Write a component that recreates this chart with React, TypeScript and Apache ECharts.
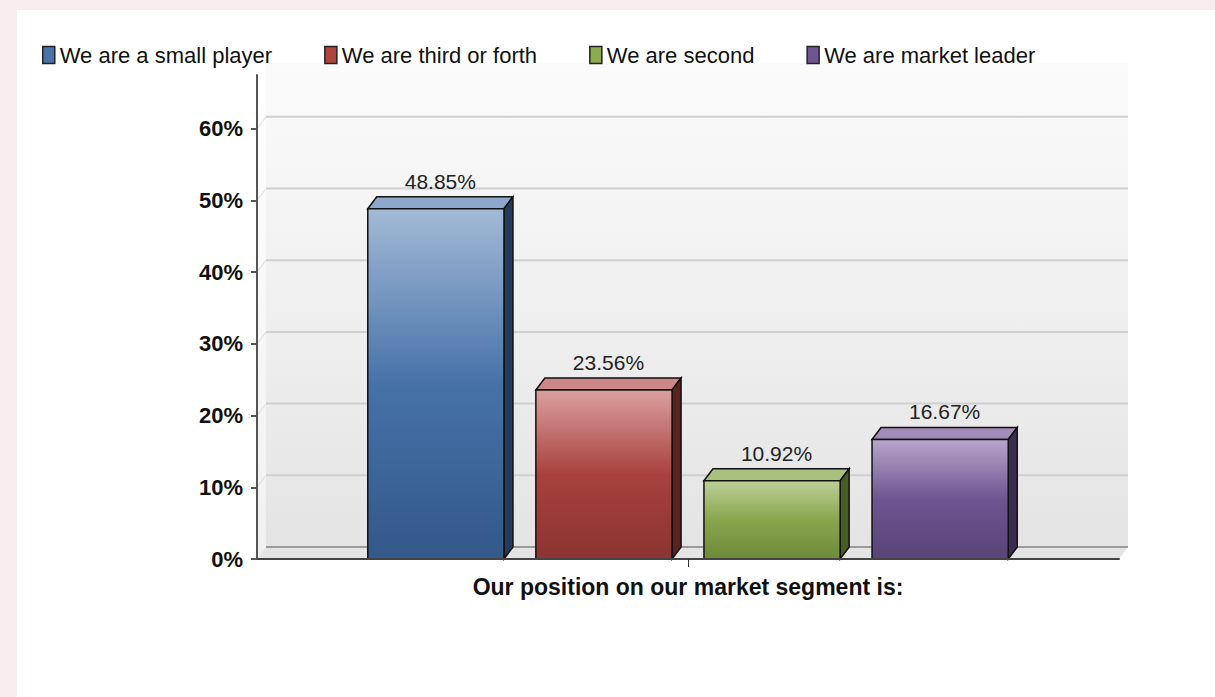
import React, { useEffect, useRef } from 'react';
import * as echarts from 'echarts';

const categories = ['Our position on our market segment is:'];
const seriesNames = ['We are a small player', 'We are third or forth', 'We are second', 'We are market leader'];
const seriesValues = [48.85, 23.56, 10.92, 16.67];
const yTickValues = [0, 10, 20, 30, 40, 50, 60];
const yMax = 67.5;

const legendColors = ['#4a74a9', '#b0443f', '#8bab4d', '#6f5693'];
const faceTop = ['#a3bad6', '#dba09e', '#bdd098', '#b8a6cb'];
const faceMid = ['#4672a8', '#a8413d', '#88a64c', '#6e5491'];
const faceBottom = ['#33588a', '#8b3431', '#6d8a3a', '#584477'];
const sideColors = ['#223b5b', '#5b2220', '#485d25', '#3a2d4f'];
const topColors = ['#8da8cb', '#cc8786', '#a9bf7e', '#a18cba'];

const DX = 9;
const DY = -12;
const BAR_FRAC = 0.158;
const STEP_FRAC = 0.195;
const SANS = "'Liberation Sans', Arial, sans-serif";

const wallRender = (params: any, api: any) => {
  const cs = params.coordSys;
  const x0 = cs.x;
  const x1 = cs.x + cs.width;
  const yT = cs.y;
  const yB = cs.y + cs.height;
  const children: any[] = [
    {
      type: 'rect',
      shape: { x: x0 + DX, y: yT + DY, width: cs.width, height: cs.height },
      style: {
        fill: new echarts.graphic.LinearGradient(0, 0, 0, 1, [
          { offset: 0, color: '#fbfbfb' },
          { offset: 1, color: '#e4e4e4' },
        ]),
      },
    },
    {
      type: 'polygon',
      shape: { points: [[x0, yT], [x0 + DX, yT + DY], [x0 + DX, yB + DY], [x0, yB]] },
      style: {
        fill: new echarts.graphic.LinearGradient(0, 0, 0, 1, [
          { offset: 0, color: '#ffffff' },
          { offset: 1, color: '#f0f0f0' },
        ]),
      },
    },
    {
      type: 'polygon',
      shape: { points: [[x0, yB], [x0 + DX, yB + DY], [x1 + DX, yB + DY], [x1, yB]] },
      style: { fill: '#e4e4e4' },
    },
  ];
  yTickValues.forEach((v) => {
    if (v === 0) return;
    const y = api.coord([0, v])[1];
    children.push({
      type: 'line',
      shape: { x1: x0 + DX, y1: y + DY, x2: x1 + DX, y2: y + DY },
      style: { stroke: '#d0d0d0', lineWidth: 2 },
    });
    children.push({
      type: 'line',
      shape: { x1: x0, y1: y, x2: x0 + DX, y2: y + DY },
      style: { stroke: '#dcdcdc', lineWidth: 1 },
    });
  });
  children.push({
    type: 'line',
    shape: { x1: x0 + DX, y1: yB + DY, x2: x1 + DX, y2: yB + DY },
    style: { stroke: '#9a9a9a', lineWidth: 2 },
  });
  return { type: 'group', children };
};

const makeBarRender = (i: number) => (params: any, api: any) => {
  const n = seriesValues.length;
  const val = api.value(1);
  const top = api.coord([api.value(0), val]);
  const base = api.coord([api.value(0), 0]);
  const band = api.size([1, 0])[0];
  const w = band * BAR_FRAC;
  const cx = top[0] + (i - (n - 1) / 2) * band * STEP_FRAC;
  const L = cx - w / 2;
  const R = cx + w / 2;
  const yT = top[1];
  const yB = base[1];
  return {
    type: 'group',
    children: [
      {
        type: 'polygon',
        shape: { points: [[L, yT], [L + DX, yT + DY], [R + DX, yT + DY], [R, yT]] },
        style: { fill: topColors[i], stroke: '#111', lineWidth: 1.5 },
      },
      {
        type: 'polygon',
        shape: { points: [[R, yT], [R + DX, yT + DY], [R + DX, yB + DY], [R, yB]] },
        style: { fill: sideColors[i], stroke: '#111', lineWidth: 1.5 },
      },
      {
        type: 'rect',
        shape: { x: L, y: yT, width: w, height: yB - yT },
        style: {
          fill: new echarts.graphic.LinearGradient(0, 0, 0, 1, [
            { offset: 0, color: faceTop[i] },
            { offset: 0.5, color: faceMid[i] },
            { offset: 1, color: faceBottom[i] },
          ]),
          stroke: '#111',
          lineWidth: 1.5,
        },
      },
      {
        type: 'text',
        style: {
          text: val.toFixed(2) + '%',
          x: (L + R + DX) / 2,
          y: yT + DY - 5,
          align: 'center',
          verticalAlign: 'bottom',
          fontSize: 21,
          fontFamily: SANS,
          fill: '#222',
        },
      },
    ],
  };
};

const option: any = {
  animation: false,
  color: legendColors,
  legend: {
    data: seriesNames,
    left: 20,
    top: 29,
    itemGap: 52,
    itemWidth: 12,
    itemHeight: 17,
    icon: 'rect',
    itemStyle: { borderColor: '#222', borderWidth: 1.5 },
    textStyle: { fontSize: 22, fontFamily: SANS, color: '#111' },
  },
  grid: { left: 240, top: 65, width: 862, height: 484, containLabel: false },
  xAxis: {
    type: 'category',
    data: categories,
    z: 5,
    axisLine: { show: true, lineStyle: { color: '#444', width: 2 } },
    axisTick: { show: true, alignWithLabel: true, length: 8, lineStyle: { color: '#333', width: 1 } },
    axisLabel: { margin: 16, fontSize: 23, fontWeight: 'bold', fontFamily: SANS, color: '#111' },
    splitLine: { show: false },
  },
  yAxis: {
    type: 'value',
    min: 0,
    max: yMax,
    interval: 10,
    z: 5,
    axisLine: { show: true, lineStyle: { color: '#555', width: 2 } },
    axisTick: { show: true, length: 6, customValues: yTickValues, lineStyle: { color: '#555', width: 2 } },
    axisLabel: {
      customValues: yTickValues,
      formatter: '{value}%',
      margin: 14,
      fontSize: 22,
      fontWeight: 'bold',
      fontFamily: SANS,
      color: '#111',
    },
    splitLine: { show: false },
  },
  series: [
    {
      type: 'custom',
      name: '__wall',
      z: 1,
      silent: true,
      renderItem: wallRender,
      data: [[0, 0]],
      encode: { x: 0, y: 1 },
    },
    ...seriesNames.map((name, i) => ({
      type: 'custom',
      name,
      z: 2,
      itemStyle: { color: legendColors[i] },
      renderItem: makeBarRender(i),
      data: [[0, seriesValues[i]]],
      encode: { x: 0, y: 1 },
    })),
  ],
};

export default function App() {
  const ref = useRef<HTMLDivElement>(null);
  useEffect(() => {
    const chart = echarts.init(ref.current as HTMLDivElement, undefined, { renderer: 'svg' });
    chart.setOption(option);
    return () => chart.dispose();
  }, []);
  return (
    <div style={{ position: 'fixed', left: 0, top: 0, width: 1215, height: 697, background: '#f9ecee' }}>
      <div
        ref={ref}
        style={{ position: 'absolute', left: 17, top: 10, width: 1198, height: 687, background: '#ffffff' }}
      />
    </div>
  );
}
